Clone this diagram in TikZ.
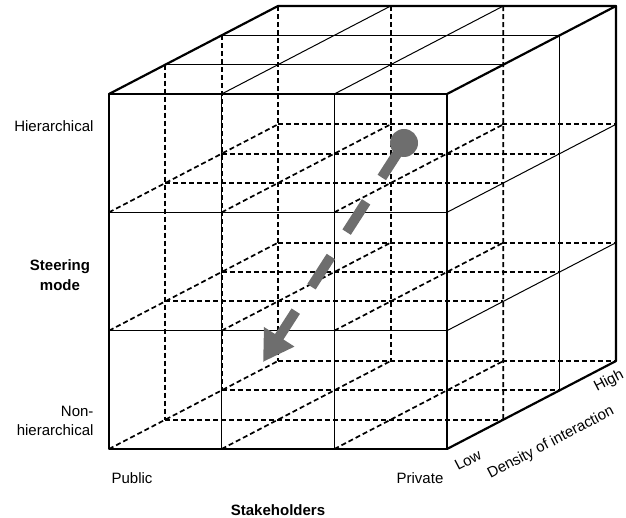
\documentclass[tikz,border=0pt]{standalone}
\usepackage{fontspec}
\setmainfont{Liberation Sans}
\usetikzlibrary{arrows.meta}
\definecolor{movegray}{HTML}{6E6E6E}
\begin{document}
\begin{tikzpicture} [x=1pt, y=-1pt, edge/.style={black,line width=2.2pt,line cap=round,line join=round},
grid line/.style={black,line width=1pt}, hidden line/.style={black,line width=1.7pt,dash pattern=on 5pt off 3pt},
txt/.style={font=\fontsize{15}{19.5}\selectfont}, move/.style={draw=movegray,line width=10pt,dash pattern=on 36pt off 29pt,
dash phase=60pt,-{Triangle[length=30pt,width=34pt]}}]

\useasboundingbox (0,0) rectangle (626,518);

%cell width, cell height and depth step
\pgfmathsetmacro{\cw}{112.67}
\pgfmathsetmacro{\ch}{118.33}
\pgfmathsetmacro{\dx}{56.33}
\pgfmathsetmacro{\dy}{29.33}

%corner points p-i-j-d: i stakeholders, j steering mode, d density
\foreach \i in {0,...,3}
  \foreach \j in {0,...,3}
    \foreach \d in {0,...,3}
      \coordinate (p-\i-\j-\d) at ({109+\i*\cw+\d*\dx},{94+\j*\ch-\d*\dy});

%hidden lines
\foreach \j in {1,2,3} {
  \foreach \d in {1,2,3}
    \draw[hidden line] (p-0-\j-\d) -- (p-3-\j-\d);
  \foreach \i in {0,1,2}
    \draw[hidden line] (p-\i-\j-0) -- (p-\i-\j-3);
}
\foreach \i in {0,1}
  \draw[hidden line] (p-\i-0-3) -- (p-\i-3-3);
\foreach \d in {1,2}
  \draw[hidden line] (p-0-0-\d) -- (p-0-3-\d);
\draw[hidden line] (p-2-0-3) -- (p-3-3-1); % back line runs on into right face

%front, top and right faces
\foreach \k in {1,2} {
  \draw[grid line] (p-\k-0-0) -- (p-\k-3-0);
  \draw[grid line] (p-0-\k-0) -- (p-3-\k-0);
  \draw[grid line] (p-\k-0-0) -- (p-\k-0-3);
  \draw[grid line] (p-0-0-\k) -- (p-3-0-\k);
  \draw[grid line] (p-3-\k-0) -- (p-3-\k-3);
}
\draw[grid line] (p-3-0-2) -- (p-3-3-2);

%outer edges
\draw[edge] (p-0-0-0) rectangle (p-3-3-0);
\draw[edge] (p-0-0-0) -- (p-0-0-3) -- (p-3-0-3) -- (p-3-3-3) -- (p-3-3-0);
\draw[edge] (p-3-0-0) -- (p-3-0-3);

%move through the cube
\node[circle,fill=movegray,minimum size=28pt,inner sep=0pt] (start) at (404,143) {};
\coordinate (end) at (263,362);
\draw[move] (start.center) -- (end);

%axis labels
\node[txt,anchor=east] (hier) at (97,126) {Hierarchical};
\node[txt,font=\fontsize{15}{20}\selectfont\bfseries,align=center] (steer) at (60,275) {Steering\\mode};
\node[txt,anchor=east,align=right] (nonhier) at (97,421) {Non-\\hierarchical};
\node[txt] (public) at (132,478) {Public};
\node[txt] (private) at (420,478) {Private};
\node[txt,font=\fontsize{15}{19.5}\selectfont\bfseries] (stake) at (278,510) {Stakeholders};
\node[txt,rotate=27.5] (low) at (468,460) {Low};
\node[txt,rotate=27.5] (density) at (551,443) {Density of interaction};
\node[txt,rotate=27.5] (high) at (609,381) {High};

\end{tikzpicture}
\end{document}
